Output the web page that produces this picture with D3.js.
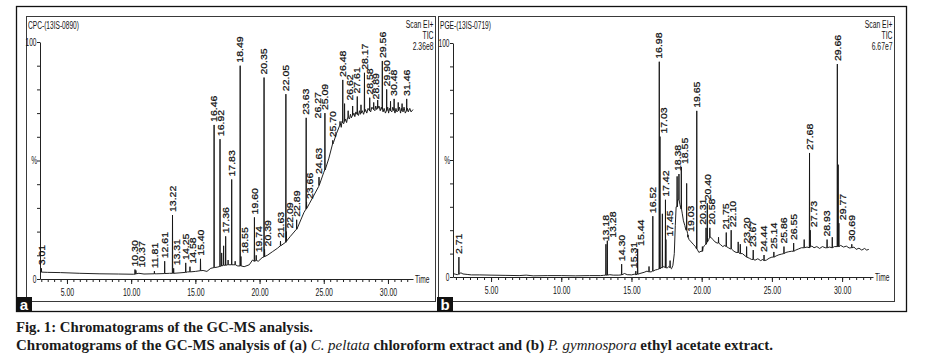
<!DOCTYPE html>
<html><head><meta charset="utf-8">
<script src="https://cdn.jsdelivr.net/npm/d3@7/dist/d3.min.js"></script>
<style>
html,body{margin:0;padding:0;background:#fff;}
svg{display:block;}
</style></head><body>
<svg id="chart" width="930" height="359"></svg>
<script>
// ---------------- DATA ----------------
const xTickValues = [5, 10, 15, 20, 25, 30];
const xTickLabels = ["5.00", "10.00", "15.00", "20.00", "25.00", "30.00"];
const yLabelValues = [0, 50, 100];
const yLabelTexts = ["0", "%", "100"];

// Panel a : CPC-(13IS-0890)
const headerA = ["CPC-(13IS-0890)", "Scan EI+", "TIC", "2.36e8"];
const peakTimesA  = [3.01,10.30,10.37,11.81,12.61,13.22,13.31,14.25,14.58,15.40,16.46,16.92,17.05,17.20,17.36,17.55,17.83,18.10,18.49,18.55,19.60,19.74,20.35,20.39,21.63,22.05,22.09,22.89,23.63,23.66,24.63,25.09,25.70,26.27,26.48,26.62,26.90,27.25,27.61,27.90,28.17,28.58,28.89,29.20,29.56,29.90,30.20,30.48,30.80,31.10,31.46];
const peakHeightsA= [4.5,4.0,3.6,3.3,7.5,27,4.5,6.8,5.2,8.5,65,59,11,14,18,8,42,7.5,90,9.5,26,10,85,12.5,16,78,20,25,68,32.5,43,70,58.5,66.5,84,74,71,73,77,73.5,87,76.5,74.5,75.5,92,80,75,76,74.5,74,76];
const peakBasesA  = [2.9,2.0,2.2,2.2,2.3,2.4,2.4,2.8,3.0,3.5,4.8,5.3,5.5,5.8,5.8,6.0,6.0,6.0,5.5,5.5,7.5,7.8,9.3,9.5,14,15.5,16,21,29.5,29.8,39.5,46,57,65,66,66.5,68,69,69.5,70,70.5,71,71.5,72,71.5,71,71,71,71,71,71];
const peakLabelsA = ["3.01","10.30","10.37","11.81","12.61","13.22","13.31","14.25","14.58","15.40","16.46","16.92","","","17.36","","17.83","","18.49","18.55","19.60","19.74","20.35","20.39","21.63","22.05","22.09","22.89","23.63","23.66","24.63","25.09","25.70","26.27","26.48","26.62","","","27.61","","28.17","28.58","28.89","","29.56","29.90","","30.48","","","31.46"];
const baseTimesA  = [2.90,3.5,4.5,6.0,7.5,9.0,10.2,10.6,11.0,12.0,13.0,13.8,14.4,15.0,15.6,15.9,16.2,16.7,17.0,17.5,18.0,18.3,18.8,19.2,19.45,19.9,20.2,20.6,21.0,21.4,21.9,22.4,22.9,23.45,23.9,24.2,24.6,25.0,25.4,25.75,26.0,26.30,26.36,26.42,26.55,26.70,26.78,26.85,27.00,27.08,27.15,27.35,27.42,27.50,27.70,27.78,27.85,28.00,28.10,28.25,28.35,28.45,28.65,28.75,28.98,29.05,29.12,29.30,29.40,29.48,29.62,29.70,29.80,29.98,30.05,30.12,30.30,30.38,30.55,30.62,30.70,30.90,30.98,31.05,31.18,31.25,31.35,31.52,31.58,31.70,31.80,31.95];
const baseValuesA = [3.0,2.8,2.7,2.4,2.2,2.1,2.0,2.4,2.1,2.2,2.4,2.6,3.0,3.2,3.6,3.2,4.5,5.0,5.5,6.0,6.0,5.5,5.2,6.0,8.0,7.5,9.0,10.0,11.5,13,15,18,21,28,32,35,39,45,51,57.5,61.5,65.5,64.0,66.5,65.5,67.5,66.0,68.0,67.5,69.5,68.0,70.0,68.5,70.5,69.0,71.0,69.5,71.0,69.5,71.5,70.0,72.0,70.5,72.5,71.0,73.0,71.5,73.0,71.0,72.5,70.5,72.0,70.0,72.5,70.0,72.0,70.5,72.5,70.0,72.0,70.5,72.5,70.0,72.0,70.5,72.5,70.0,72.0,70.5,72.0,70.5,71.5];

// Panel b : PGE-(13IS-0719)
const headerB = ["PGE-(13IS-0719)", "Scan EI+", "TIC", "6.67e7"];
const peakTimesB  = [2.71,13.18,13.28,14.30,15.31,15.44,16.25,16.52,16.98,17.03,17.20,17.42,17.45,17.75,18.25,18.38,18.55,18.93,19.03,19.65,20.05,20.31,20.40,20.58,21.20,21.75,22.10,22.60,22.75,23.20,23.67,24.44,25.14,25.86,26.55,27.30,27.68,27.73,28.93,29.30,29.66,29.72,29.77,30.69];
const peakHeightsB= [8.5,14,15.5,5.5,2.5,12,4.5,26,92,60,27,33,16,7,43,44,47,40,18,71,13,21,31.5,21,17,19,20,15,14,13,11.5,9.4,10.7,13,14.5,16,53,20,16,17,91,48,23,14];
const peakBasesB  = [1.2,0.8,0.8,0.9,1.0,1.2,2.2,2.5,3.5,3.5,4.0,4.0,4.0,4.0,30,33,29,20,17,12,11,14,15,17,14.5,13,12,10.5,10,8.5,7.5,7,8.5,10,11,12.5,12.5,13,12.5,12.5,13,13,13,12.5];
const peakLabelsB = ["2.71","13.18","13.28","14.30","15.31","15.44","","16.52","16.98","17.03","","17.42","17.45","","","18.38","18.55","","19.03","19.65","","20.31","20.40","20.58","","21.75","22.10","","","23.20","23.67","24.44","25.14","25.86","26.55","","27.68","27.73","28.93","","29.66","","29.77","30.69"];
const baseTimesB  = [2.29,2.45,2.6,2.85,3.0,3.3,3.6,4.2,5.0,6.0,7.0,7.5,8.0,9.0,10.0,11.0,12.0,12.8,13.0,13.45,13.7,14.1,14.5,14.7,15.0,15.2,15.6,15.9,16.1,16.4,16.7,16.85,17.1,17.3,17.55,17.65,17.85,17.95,18.05,18.12,18.18,18.3,18.45,18.62,18.7,18.8,18.88,19.0,19.1,19.25,19.4,19.55,19.8,19.95,20.1,20.2,20.5,20.65,20.8,20.95,21.1,21.35,21.5,21.65,21.9,22.05,22.3,22.45,22.9,23.1,23.4,23.55,23.8,24.0,24.2,24.35,24.6,24.8,25.0,25.3,25.5,25.7,26.0,26.2,26.4,26.7,26.9,27.1,27.5,27.85,28.0,28.2,28.4,28.6,28.8,29.1,29.45,29.9,30.1,30.3,30.5,30.85,31.0,31.2,31.4,31.6,31.75,31.9];
const baseValuesB = [1.5,1.2,1.0,1.8,1.3,1.1,0.9,0.9,0.8,0.7,0.6,0.8,0.5,0.6,0.6,0.5,0.6,0.6,0.7,1.0,0.8,0.8,1.5,1.0,0.9,1.2,1.5,2.0,2.5,2.2,3.0,3.2,4.0,4.5,3.8,4.5,3.5,5.0,10,22,30,33,31,27,24,22,20,18.5,16,15,14,13,10.5,11,12.5,13.5,16,17,16,15,14.5,13.8,13,13.5,12.5,12,11,10.5,10,9,8,7.5,7.2,7.8,7.0,7.5,7.2,8.0,8.5,9.0,9.5,9.8,10.5,10.8,11.0,11.5,12.0,12.5,12.8,13.2,12.5,13.0,12.2,13.0,12.5,12.8,13.0,13.5,12.8,13.2,12.4,12.8,11.8,12.3,11.5,12.2,11.5,11.8];

// Caption
const captionLine1 = "Fig. 1: Chromatograms of the GC-MS analysis.";
const captionParts = [
  ["Chromatograms of the GC-MS analysis of (a) ", "b"],
  ["C. peltata", "i"],
  [" chloroform extract and (b) ", "b"],
  ["P. gymnospora", "i"],
  [" ethyl acetate extract.", "b"]
];

// ---------------- DRAWING ----------------
const svg = d3.select("#chart");
const SANS = "'Liberation Sans', Arial, sans-serif";
const SX = 0.66;   // horizontal compression of the instrument-printout text
const LSX = 0.86;  // compression of the rotated peak labels (horizontal direction)

function narrow(g, x, y, str, anchor, size, sx) {
  return g.append("text")
    .attr("transform", `translate(${x},${y}) scale(${sx || SX},1)`)
    .attr("text-anchor", anchor || "start")
    .style("font-family", SANS).style("font-size", (size || 10) + "px")
    .attr("fill", "#141414")
    .text(str);
}

function buildTrace(bt, bv, pt, ph, pb) {
  const pts = bt.map((t, i) => ({t: t, v: bv[i]}));
  pt.forEach((t, i) => {
    pts.push({t: t - 0.015, v: pb[i]}, {t: t, v: ph[i]}, {t: t + 0.015, v: pb[i]});
  });
  pts.sort((a, b) => a.t - b.t);
  return pts;
}

function drawPanel(p) {
  const g = svg.append("g");
  const xs = d3.scaleLinear().domain(p.xDomain).range(p.xRange);
  const ys = d3.scaleLinear().domain([0, 100]).range(p.yRange);
  const [fx0, fy0, fx1, fy1] = p.frame;
  g.append("rect").attr("x", fx0 + 0.5).attr("y", fy0 + 0.5)
    .attr("width", fx1 - fx0).attr("height", fy1 - fy0)
    .attr("fill", "none").attr("stroke", "#3a3a3a").attr("stroke-width", 1);

  // minor x ticks
  const minor = d3.range(Math.ceil(p.xDomain[0] * 2) / 2, p.xDomain[1], 0.5);
  g.append("g").attr("transform", `translate(0,${p.yRange[0]})`)
    .call(d3.axisBottom(xs).tickValues(minor).tickSize(3).tickSizeOuter(0).tickFormat(""))
    .call(a => a.select(".domain").remove())
    .call(a => a.selectAll("line").attr("stroke", "#222"));
  // major x axis
  const ax = g.append("g").attr("transform", `translate(0,${p.yRange[0]})`)
    .call(d3.axisBottom(xs).tickValues(xTickValues).tickSize(5).tickSizeOuter(0).tickPadding(5)
      .tickFormat((d, i) => xTickLabels[i]));
  ax.attr("font-family", null).attr("font-size", null);
  ax.select(".domain").attr("stroke", "#222");
  ax.selectAll("line").attr("stroke", "#222");
  ax.selectAll("text").attr("transform", `scale(${SX},1)`)
    .style("font-family", SANS).style("font-size", "10.5px").attr("fill", "#141414");
  narrow(g, p.xRange[1] + 2, p.yRange[0] + 3.5, "Time", "start", 10);

  // y axis
  const ay = g.append("g").attr("transform", `translate(${p.xRange[0]},0)`)
    .call(d3.axisLeft(ys).tickValues(d3.range(0, 101, 10)).tickSize(3).tickSizeOuter(0).tickFormat(""));
  ay.select(".domain").attr("stroke", "#222");
  ay.selectAll("line").attr("stroke", "#222");
  yLabelValues.forEach((v, i) => {
    narrow(g, p.xRange[0] - (i === 1 ? 3 : 3.5), ys(v) + 3.5, yLabelTexts[i], "end", 10);
  });

  // header
  narrow(g, fx0 + 2, fy0 + 12.5, p.header[0], "start", 10);
  narrow(g, fx1 - 1.5, fy0 + 11.5, p.header[1], "end", 10, 0.68);
  narrow(g, fx1 - 1.5, fy0 + 22.5, p.header[2], "end", 10, 0.68);
  narrow(g, fx1 - 1.5, fy0 + 33.5, p.header[3], "end", 10, 0.68);

  // trace
  const pts = buildTrace(p.bt, p.bv, p.pt, p.ph, p.pb);
  g.append("path").datum(pts)
    .attr("d", d3.line().x(d => xs(d.t)).y(d => ys(d.v)))
    .attr("fill", "none").attr("stroke", "#161616").attr("stroke-width", 0.95)
    .attr("stroke-linejoin", "round");

  // peak labels: nearest free horizontal slot above each apex
  const obstacles = p.pt.map((t, i) => ({x: xs(t), hw: 0.6, yt: ys(p.ph[i]), yb: ys(0), id: i}));
  const placed = [];
  const hw = 3.2, tol = 2;
  const offsets = [0];
  for (let k = 0.5; k <= 30; k += 0.5) offsets.push(k, -k);
  p.pt.forEach((t, i) => {
    if (!p.pl[i]) return;
    const txt = g.append("text")
      .style("font-family", SANS).style("font-size", "10.5px")
      .attr("fill", "#0d0d0d").attr("stroke", "#0d0d0d").attr("stroke-width", 0.25)
      .attr("text-anchor", "start").text(p.pl[i]);
    const len = txt.node().getComputedTextLength();
    const x0 = xs(t);
    const yb = ys(p.ph[i]) - 3, yt = yb - len;
    const others = obstacles.filter(o => o.id !== i).concat(placed);
    let x = x0;
    for (const off of offsets) {
      const cx = x0 + off;
      const hit = others.some(o => Math.abs(cx - o.x) < hw + o.hw &&
        Math.min(yb, o.yb) - Math.max(yt, o.yt) > tol);
      if (!hit) { x = cx; break; }
    }
    placed.push({x: x, hw: hw, yt: yt, yb: yb, id: "L" + i});
    txt.attr("transform", `translate(${x + 3.2},${yb}) scale(${LSX},1) rotate(-90)`);
  });

  // panel letter
  g.append("rect").attr("x", p.letterBox[0]).attr("y", p.letterBox[1])
    .attr("width", 16).attr("height", 15).attr("fill", "#111");
  g.append("text").attr("x", p.letterBox[0] + 8).attr("y", p.letterBox[1] + 12.5)
    .attr("text-anchor", "middle").attr("fill", "#fff")
    .style("font-family", SANS).style("font-weight", "bold").style("font-size", "15px")
    .text(p.letter);
}

// outer frame
svg.append("rect").attr("x", 16.5).attr("y", 6.5).attr("width", 890).attr("height", 305)
  .attr("fill", "none").attr("stroke", "#111").attr("stroke-width", 1.3);

drawPanel({
  frame: [26, 16, 435, 301], xDomain: [2.9, 31.95], xRange: [40, 413], yRange: [279, 42],
  header: headerA, bt: baseTimesA, bv: baseValuesA, pt: peakTimesA, ph: peakHeightsA,
  pb: peakBasesA, pl: peakLabelsA, letter: "a", letterBox: [16, 297]
});
drawPanel({
  frame: [438, 16, 894, 301], xDomain: [2.29, 32.2], xRange: [453, 873], yRange: [277, 43],
  header: headerB, bt: baseTimesB, bv: baseValuesB, pt: peakTimesB, ph: peakHeightsB,
  pb: peakBasesB, pl: peakLabelsB, letter: "b", letterBox: [437, 297]
});

// caption
const SERIF = "'Liberation Serif', 'DejaVu Serif', serif";
svg.append("text").attr("x", 16).attr("y", 332)
  .attr("textLength", 297).attr("lengthAdjust", "spacingAndGlyphs")
  .style("font-family", SERIF).style("font-size", "14px").style("font-weight", "bold")
  .attr("fill", "#1a1a1a").text(captionLine1);
const cap2 = svg.append("text").attr("x", 16).attr("y", 350)
  .attr("textLength", 757).attr("lengthAdjust", "spacingAndGlyphs")
  .style("font-family", SERIF).style("font-size", "14px").attr("fill", "#1a1a1a");
captionParts.forEach(([s, st]) => {
  cap2.append("tspan").text(s)
    .style("font-weight", st === "b" ? "bold" : "normal")
    .style("font-style", st === "i" ? "italic" : "normal");
});
</script>
</body></html>
